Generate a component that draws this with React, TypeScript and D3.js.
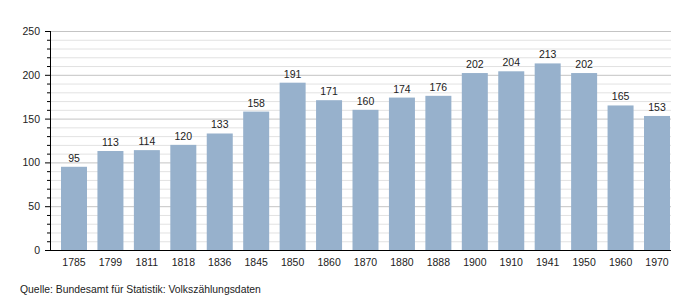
import React from "react";
import * as d3 from "d3";

const years = ["1785","1799","1811","1818","1836","1845","1850","1860","1870","1880","1888","1900","1910","1941","1950","1960","1970"];
const values = [95,113,114,120,133,158,191,171,160,174,176,202,204,213,202,165,153];
const majorTicks = [0,50,100,150,200,250];
const minorTicks = d3.range(0, 251, 10);
const source = "Quelle: Bundesamt für Statistik: Volkszählungsdaten";

const W = 700, H = 300;
const axisX = 50, plotRight = 671, yTop = 31, yBottom = 250;

export default function App() {
  const y = d3.scaleLinear().domain([0, 250]).range([yBottom, yTop]);
  const x = d3.scaleBand<string>().domain(years).range([61, 670]).paddingInner(0.2865).paddingOuter(0);
  const font = "'Liberation Sans', Arial, sans-serif";
  return (
    <svg width={W} height={H} style={{ position: "absolute", left: 0, top: 0 }} fontFamily={font}>
      <rect width={W} height={H} fill="#fff" />
      {minorTicks.filter(t => t % 50 !== 0).map(t => (
        <line key={"g" + t} x1={axisX} x2={plotRight} y1={y(t) + 0.5} y2={y(t) + 0.5} stroke="#e2e2e2" strokeWidth={1} />
      ))}
      {majorTicks.filter(t => t !== 0).map(t => (
        <line key={"G" + t} x1={axisX} x2={plotRight} y1={y(t) + 0.5} y2={y(t) + 0.5} stroke="#c4c4c4" strokeWidth={1} />
      ))}
      {years.map((yr, i) => (
        <g key={yr}>
          <rect x={x(yr)} y={y(values[i])} width={x.bandwidth()} height={y(0) - y(values[i])} fill="#97b1cc" />
          <text x={(x(yr) as number) + x.bandwidth() / 2} y={y(values[i]) - 5} textAnchor="middle" fontSize={10.5} fill="#222">{values[i]}</text>
          <text x={(x(yr) as number) + x.bandwidth() / 2} y={266} textAnchor="middle" fontSize={10.5} fill="#222">{yr}</text>
        </g>
      ))}
      {minorTicks.map(t => (
        <line key={"t" + t} x1={t % 50 === 0 ? axisX - 5 : axisX - 3} x2={axisX} y1={y(t) + 0.5} y2={y(t) + 0.5} stroke="#000" strokeWidth={1} />
      ))}
      {majorTicks.map(t => (
        <text key={"l" + t} x={40} y={y(t) + 4} textAnchor="end" fontSize={10.5} fill="#222">{t}</text>
      ))}
      <line x1={axisX + 0.5} x2={axisX + 0.5} y1={yTop} y2={yBottom + 0.5} stroke="#000" strokeWidth={1} />
      <line x1={axisX} x2={plotRight} y1={yBottom + 0.5} y2={yBottom + 0.5} stroke="#000" strokeWidth={1} />
      <text x={20} y={293} fontSize={10.4} fill="#222">{source}</text>
    </svg>
  );
}
